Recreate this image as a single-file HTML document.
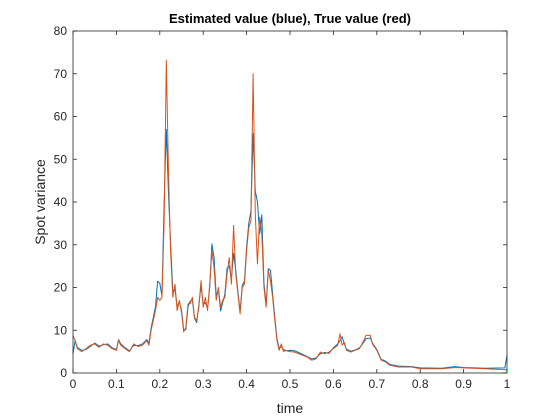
<!DOCTYPE html>
<html><head><meta charset="utf-8"><style>
body{margin:0;background:#fff;}
svg{display:block;font-family:"Liberation Sans",Arial,sans-serif;}
</style></head><body>
<svg id="chart" width="560" height="420" viewBox="0 0 560 420" xmlns="http://www.w3.org/2000/svg">
<rect x="0" y="0" width="560" height="420" fill="#fff"/>
<rect x="73" y="31" width="434" height="342" fill="#fff"/>
<g id="ticks"></g>
<g id="series"></g>
<rect x="73" y="31" width="434" height="342" fill="none" stroke="#262626" stroke-width="0.8"/>
<text x="290" y="23" text-anchor="middle" font-size="13" font-weight="bold" fill="#000">Estimated value (blue), True value (red)</text>
<text x="290" y="413" text-anchor="middle" font-size="14" fill="#262626">time</text>
<text x="0" y="0" transform="translate(45,202) rotate(-90)" text-anchor="middle" font-size="14" fill="#262626">Spot variance</text>
</svg>
<script>
const times=[0,0.005,0.01,0.02,0.03,0.04,0.05,0.06,0.07,0.08,0.09,0.1,0.105,0.11,0.12,0.13,0.14,0.15,0.16,0.17,0.175,0.18,0.19,0.195,0.2,0.205,0.21,0.215,0.22,0.225,0.23,0.235,0.24,0.245,0.25,0.255,0.26,0.265,0.27,0.275,0.28,0.285,0.29,0.295,0.3,0.305,0.31,0.315,0.32,0.325,0.33,0.335,0.34,0.345,0.35,0.355,0.36,0.365,0.37,0.375,0.38,0.385,0.39,0.395,0.4,0.405,0.41,0.415,0.42,0.425,0.43,0.435,0.44,0.445,0.45,0.455,0.46,0.465,0.47,0.475,0.48,0.485,0.49,0.5,0.51,0.52,0.53,0.54,0.55,0.56,0.57,0.58,0.59,0.6,0.61,0.615,0.62,0.625,0.63,0.64,0.65,0.66,0.67,0.675,0.685,0.69,0.7,0.71,0.72,0.73,0.75,0.78,0.8,0.85,0.88,0.9,0.95,0.995,1];
const trueValues=[8.8,7.5,5.7,5,5.7,6.5,6.8,6,6.8,6.5,5.7,5.3,7.6,6.5,5.7,5,6.8,6.2,6.5,7.6,6.5,10,14.6,17.7,17,17.7,35.6,73.2,47,28,17.7,20.8,14.6,17,14.2,9.6,10.7,16.2,16.2,17.7,13,12.3,15.4,21.6,15.4,17.7,14.6,20.8,28.6,24.7,17,20,15.4,17,17.7,23.2,27,20.8,34.5,23.2,18.5,13.8,20,20.8,28.6,34,35.6,70,37.2,25.5,36.4,32.5,20,15.4,24,21.6,17.7,12.3,7.6,5.3,6.8,5,5.3,5,4.9,4.5,4.1,3.7,3,3.3,4.9,4.5,4.9,5.7,6.5,9.2,6.5,7.2,5.3,4.9,5.3,5.7,7.6,8.8,8.8,6.8,5.3,3,2.6,1.8,1.4,1.4,1,1,1.3,1.2,1,0.8,0.8];
const estValues=[4.5,7.6,6,5.3,5.5,6.2,7,6.3,6.6,6.8,5.9,5.5,7.8,6.8,5.9,5.2,6.5,6.4,6.8,7.8,7,10.5,15.5,21.5,21,18,40,57,42,30,19,19.5,15.5,16.5,14.8,10,10.2,15.5,16.8,17.2,12.8,11.8,16,20.5,16,16.5,15.2,20,30.2,27,18,19.5,14.5,16.5,18.5,24.5,25,22,28,24,19,14.5,20.5,21.5,29.5,35,38,56,42.6,40,32.5,37,21,16,24.4,24,18.5,13,8,5.8,6.2,5.5,5.2,5.3,5.2,4.8,4.3,3.8,3.3,3.5,4.5,4.8,4.6,5.9,6.8,7.5,8.5,6.8,5.6,5.1,5.4,5.9,7.2,8,8.2,7,5.5,3.2,2.8,2,1.6,1.5,1.2,1.1,1.5,1.3,1.1,1.2,4.1];
const xTicks=[0,0.1,0.2,0.3,0.4,0.5,0.6,0.7,0.8,0.9,1];
const xTickLabels=["0","0.1","0.2","0.3","0.4","0.5","0.6","0.7","0.8","0.9","1"];
const yTicks=[0,10,20,30,40,50,60,70,80];
const yTickLabels=["0","10","20","30","40","50","60","70","80"];

const NS="http://www.w3.org/2000/svg";
const L=73,R=507,T=31,B=373;
function xs(v){return L+(v-0)/(1-0)*(R-L);}
function ys(v){return B-(v-0)/(80-0)*(B-T);}
const tg=document.getElementById('ticks');
xTicks.forEach((v,i)=>{
  const x=xs(v);
  const t1=document.createElementNS(NS,'line');
  t1.setAttribute('x1',x);t1.setAttribute('x2',x);t1.setAttribute('y1',B);t1.setAttribute('y2',B-4);
  t1.setAttribute('stroke','#262626');t1.setAttribute('stroke-width','0.8');
  
  
  tg.appendChild(t1);
  const t2=document.createElementNS(NS,'line');
  t2.setAttribute('x1',x);t2.setAttribute('x2',x);t2.setAttribute('y1',T);t2.setAttribute('y2',T+4);
  t2.setAttribute('stroke','#262626');t2.setAttribute('stroke-width','0.8');
  
  
  tg.appendChild(t2);
  const tx=document.createElementNS(NS,'text');
  tx.setAttribute('x',x);tx.setAttribute('y',B+15);tx.setAttribute('text-anchor','middle');
  tx.setAttribute('font-size','12');tx.setAttribute('fill','#262626');
  tx.textContent=xTickLabels[i];
  
  
  tg.appendChild(tx);
});
yTicks.forEach((v,i)=>{
  const y=ys(v);
  const t1=document.createElementNS(NS,'line');
  t1.setAttribute('x1',L);t1.setAttribute('x2',L+4);t1.setAttribute('y1',y);t1.setAttribute('y2',y);
  t1.setAttribute('stroke','#262626');t1.setAttribute('stroke-width','0.8');
  
  
  tg.appendChild(t1);
  const t2=document.createElementNS(NS,'line');
  t2.setAttribute('x1',R);t2.setAttribute('x2',R-4);t2.setAttribute('y1',y);t2.setAttribute('y2',y);
  t2.setAttribute('stroke','#262626');t2.setAttribute('stroke-width','0.8');
  
  
  tg.appendChild(t2);
  const tx=document.createElementNS(NS,'text');
  tx.setAttribute('x',L-6);tx.setAttribute('y',y+4);tx.setAttribute('text-anchor','end');
  tx.setAttribute('font-size','12');tx.setAttribute('fill','#262626');
  tx.textContent=yTickLabels[i];
  
  
  tg.appendChild(tx);
});
const sg=document.getElementById('series');
function drawLine(vals,color,name){
  const d=times.map((t,i)=>(i?'L':'M')+xs(t).toFixed(2)+','+ys(vals[i]).toFixed(2)).join(' ');
  const p=document.createElementNS(NS,'path');
  p.setAttribute('d',d);p.setAttribute('fill','none');p.setAttribute('stroke',color);
  p.setAttribute('stroke-width','1');p.setAttribute('stroke-linejoin','round');
  
  
  sg.appendChild(p);
}
drawLine(estValues,'#0072BD','estimated-value-line');
drawLine(trueValues,'#D95319','true-value-line');
</script>
</body></html>
